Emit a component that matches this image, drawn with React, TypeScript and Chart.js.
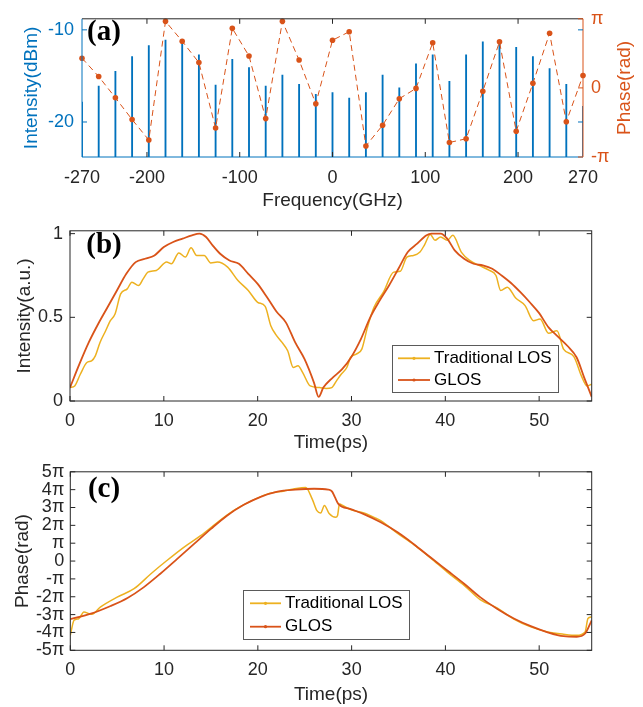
import React, { useEffect, useRef } from 'react';
import { Chart, registerables } from 'chart.js';

Chart.register(...registerables);

// ---------- Panel (a) data ----------
const FREQ_GHZ = [-270, -252, -234, -216, -198, -180, -162, -144, -126, -108, -90, -72, -54, -36, -18, 0,
  18, 36, 54, 72, 90, 108, 126, 144, 162, 180, 198, 216, 234, 252, 270];
const STEM_DBM = [-17.85, -16.1, -14.5, -12.9, -11.7, -11.1, -11.5, -12.7, -16.0, -13.2, -14.1, -16.1, -14.9, -15.9, -17.0, -16.8,
  -17.4, -16.8, -14.9, -16.3, -13.7, -12.7, -15.6, -12.7, -11.3, -11.5, -11.9, -12.9, -14.2, -15.9, -18.3];
// spectral phase, in units of pi
const PHASE_A_PI = [0.43, 0.165, -0.143, -0.458, -0.754, 0.963, 0.676, 0.366, -0.581, 0.862, 0.462, -0.444, 0.963, 0.403, -0.231, 0.69,
  0.813, -0.84, -0.54, -0.157, -0.007, 0.653, -0.79, -0.736, -0.048, 0.667, -0.627, 0.066, 0.79, -0.49, 0.18];
const FREQ_TICKS = [-270, -200, -100, 0, 100, 200, 270];
const DBM_TICKS = [-20, -10];
const PHASE_A_TICKS = [-1, 0, 1];

// ---------- Panel (b) data ----------
const LOS_T = [0, 0.5, 1.1, 1.8, 2.3, 2.7, 3.2, 3.8, 4.3, 4.8, 5.4, 6.1, 6.6, 7.3, 7.8, 8.3, 9.2, 10.3, 10.8, 11.6,
  12.3, 12.9, 13.5, 14.3, 15.0, 15.7, 16.8, 17.9, 19.0, 20.0, 20.8, 21.4, 21.9, 22.6, 23.2, 23.8, 24.3, 24.8, 25.6, 26.6,
  27.3, 27.9, 28.4, 28.9, 29.5, 29.9, 30.5, 31.1, 31.7, 32.4, 33.4, 34.5, 35.2, 35.9, 36.6, 37.3, 37.8, 38.4, 38.9, 39.5,
  40.2, 40.8, 41.7, 42.6, 43.6, 44.7, 45.4, 45.9, 46.6, 47.5, 48.5, 49.4, 50.1, 51.0, 51.9, 52.6, 53.7, 54.5, 55.1, 55.6];
const LOS_I = [0.08, 0.09, 0.16, 0.23, 0.24, 0.27, 0.35, 0.42, 0.48, 0.52, 0.64, 0.67, 0.71, 0.69, 0.73, 0.77, 0.78, 0.83, 0.82, 0.885,
  0.86, 0.915, 0.87, 0.87, 0.825, 0.83, 0.80, 0.72, 0.66, 0.59, 0.565, 0.45, 0.40, 0.35, 0.30, 0.20, 0.21, 0.17, 0.09, 0.08,
  0.075, 0.08, 0.12, 0.16, 0.20, 0.26, 0.28, 0.31, 0.44, 0.56, 0.65, 0.77, 0.775, 0.86, 0.87, 0.89, 0.935, 0.995, 0.96, 0.98,
  0.96, 0.99, 0.89, 0.84, 0.81, 0.78, 0.75, 0.66, 0.68, 0.615, 0.57, 0.48, 0.49, 0.405, 0.42, 0.31, 0.265, 0.15, 0.09, 0.10];
const GLOS_T = [0, 1, 2, 3, 4, 5, 6, 7, 8, 9, 10, 11, 12, 13, 13.8, 14.5, 15.2, 16, 17, 18, 19, 20, 21, 22, 23, 24, 25, 26, 26.5,
  27, 28, 29, 30, 31, 32, 33, 34, 35, 36, 37, 38, 38.5, 39.5, 40.2, 41, 42, 43, 44, 45, 46, 47, 48, 49, 50, 51, 52, 53, 54, 54.8, 55.6];
const GLOS_I = [0.08, 0.22, 0.35, 0.46, 0.56, 0.66, 0.76, 0.83, 0.85, 0.87, 0.92, 0.95, 0.97, 0.99, 1.0, 0.98, 0.93, 0.88, 0.84, 0.82,
  0.76, 0.70, 0.62, 0.535, 0.47, 0.35, 0.25, 0.11, 0.025, 0.08, 0.14, 0.19, 0.265, 0.37, 0.50, 0.60, 0.69, 0.79, 0.89, 0.94, 0.99,
  1.0, 1.0, 0.97, 0.90, 0.85, 0.82, 0.81, 0.79, 0.75, 0.705, 0.65, 0.59, 0.525, 0.44, 0.385, 0.33, 0.26, 0.14, 0.025];
const TIME_TICKS = [0, 10, 20, 30, 40, 50];
const INT_TICKS = [0, 0.5, 1];

// ---------- Panel (c) data (phase in units of pi) ----------
const LOS_PT = [0, 0.4, 0.9, 1.45, 2.0, 2.3, 3.2, 5.0, 6.8, 8.6, 10.3, 12.1, 13.9, 15.7, 17.4, 19.2, 21.0, 22.8, 23.8, 25.1,
  25.8, 26.3, 26.7, 27.1, 27.6, 28.3, 28.5, 28.7, 29.1, 29.9, 31.3, 32.6, 33.1, 34.9, 36.6, 38.4, 40.2, 42.0, 43.7, 45.5,
  47.3, 49.1, 50.9, 52.6, 54.0, 54.9, 55.2, 55.6];
const LOS_PH = [-4.16, -3.32, -3.23, -2.85, -2.95, -2.98, -2.58, -2.02, -1.55, -0.71, 0.03, 0.77, 1.42, 2.17, 2.82, 3.34, 3.75, 3.93, 4.03, 4.12,
  3.47, 2.82, 2.69, 3.11, 2.66, 2.45, 2.55, 3.19, 3.1, 2.88, 2.70, 2.40, 2.26, 1.55, 0.93, 0.18, -0.62, -1.36, -2.16, -2.62,
  -3.25, -3.69, -3.97, -4.10, -4.16, -3.97, -3.22, -3.13];
const GLOS_PT = [0, 2.2, 4.3, 6.1, 7.85, 9.6, 11.4, 13.2, 15.0, 16.7, 18.5, 20.3, 22.1, 24.0, 26.0, 27.5, 27.9, 28.2, 28.6, 29.9,
  31.3, 33.1, 34.9, 36.6, 38.4, 40.2, 42.0, 43.7, 45.5, 47.3, 49.1, 50.9, 52.6, 54.0, 54.9, 55.6];
const GLOS_PH = [-3.26, -2.95, -2.52, -2.07, -1.46, -0.71, 0.12, 0.96, 1.80, 2.54, 3.15, 3.60, 3.89, 4.0, 4.05, 4.0, 3.9, 3.6, 3.19, 2.91,
  2.63, 2.17, 1.61, 0.96, 0.21, -0.53, -1.27, -2.02, -2.67, -3.22, -3.65, -3.99, -4.21, -4.24, -4.06, -3.32];
const PHASE_C_TICKS = [-5, -4, -3, -2, -1, 0, 1, 2, 3, 4, 5];

const SERIES_NAMES = ['Traditional LOS', 'GLOS'];

// ---------- styles ----------
const BLUE = '#0072BD';
const ORANGE = '#D95319';
const YELLOW = '#EDB120';
const INK = '#262626';
const SANS = "'Liberation Sans', Arial, Helvetica, sans-serif";
const SERIF = "'Liberation Serif', 'Times New Roman', serif";
const TICK_LEN = 5;

const piLabel = (v: number) => (v === 0 ? '0' : v === 1 ? 'π' : v === -1 ? '-π' : `${v}π`);
const pts = (xs: number[], ys: number[]) => xs.map((x, i) => ({ x, y: ys[i] }));

function seg(ctx: CanvasRenderingContext2D, x0: number, y0: number, x1: number, y1: number, color: string, w = 1) {
  ctx.beginPath();
  ctx.strokeStyle = color;
  ctx.lineWidth = w;
  ctx.moveTo(x0, y0);
  ctx.lineTo(x1, y1);
  ctx.stroke();
}

function xTicks(chart: any, axis: string, values: number[], color: string) {
  const { ctx, chartArea: a } = chart;
  const s = chart.scales[axis];
  values.forEach((v) => {
    const x = s.getPixelForValue(v);
    seg(ctx, x, a.top, x, a.top + TICK_LEN, color);
    seg(ctx, x, a.bottom, x, a.bottom - TICK_LEN, color);
  });
}

function yTicks(chart: any, axis: string, values: number[], color: string, sides: string[]) {
  const { ctx, chartArea: a } = chart;
  const s = chart.scales[axis];
  values.forEach((v) => {
    const y = s.getPixelForValue(v);
    if (sides.includes('left')) seg(ctx, a.left, y, a.left + TICK_LEN, y, color);
    if (sides.includes('right')) seg(ctx, a.right, y, a.right - TICK_LEN, y, color);
  });
}

function tag(ctx: CanvasRenderingContext2D, text: string, x: number, y: number) {
  ctx.save();
  ctx.font = `bold 29px ${SERIF}`;
  ctx.fillStyle = '#000';
  ctx.textAlign = 'center';
  ctx.textBaseline = 'middle';
  ctx.fillText(text, x, y);
  ctx.restore();
}

function legendBox(ctx: CanvasRenderingContext2D, x0: number, y0: number, x1: number, y1: number,
  lx0: number, lx1: number, tx: number, rows: number[]) {
  ctx.save();
  ctx.fillStyle = '#fff';
  ctx.fillRect(x0, y0, x1 - x0, y1 - y0);
  ctx.strokeStyle = '#5a5a5a';
  ctx.lineWidth = 1;
  ctx.strokeRect(x0 + 0.5, y0 + 0.5, x1 - x0, y1 - y0);
  const colors = [YELLOW, ORANGE];
  ctx.font = `17px ${SANS}`;
  ctx.textBaseline = 'middle';
  ctx.textAlign = 'left';
  SERIES_NAMES.forEach((name, i) => {
    const y = rows[i];
    seg(ctx, lx0, y, lx1, y, colors[i], 1.8);
    ctx.beginPath();
    ctx.fillStyle = colors[i];
    ctx.arc((lx0 + lx1) / 2, y, 1.6, 0, Math.PI * 2);
    ctx.fill();
    ctx.fillStyle = '#000';
    ctx.fillText(name, tx, y);
  });
  ctx.restore();
}

const tickFont = { family: SANS, size: 18 };
const titleFont = { family: SANS, size: 19 };

function fixedTicks(values: number[]) {
  return (s: any) => {
    s.ticks = values.map((value) => ({ value }));
  };
}

function configA(): any {
  const decor = {
    id: 'decorA',
    afterDatasetsDraw(chart: any) {
      const { ctx, chartArea: a } = chart;
      ctx.save();
      seg(ctx, a.left, a.top, a.right, a.top, INK);
      seg(ctx, a.left, a.bottom, a.right, a.bottom, BLUE);
      seg(ctx, a.left, a.top, a.left, a.bottom, BLUE);
      seg(ctx, a.right, a.top, a.right, a.bottom, ORANGE);
      xTicks(chart, 'x', [-200, -100, 0, 100, 200], INK);
      yTicks(chart, 'y', DBM_TICKS, BLUE, ['left', 'right']);
      yTicks(chart, 'yR', PHASE_A_TICKS, ORANGE, ['right']);
      tag(ctx, '(a)', 104, 33);
      ctx.translate(625, (a.top + a.bottom) / 2);
      ctx.rotate(-Math.PI / 2);
      ctx.font = `19px ${SANS}`;
      ctx.fillStyle = ORANGE;
      ctx.textAlign = 'center';
      ctx.textBaseline = 'middle';
      ctx.fillText('Phase(rad)', 0, 0);
      ctx.restore();
    },
  };
  return {
    type: 'bar',
    data: {
      datasets: [
        {
          type: 'line',
          data: pts(FREQ_GHZ, PHASE_A_PI),
          yAxisID: 'yR',
          borderColor: ORANGE,
          borderWidth: 1,
          borderDash: [6, 4],
          pointRadius: 2.8,
          pointBackgroundColor: ORANGE,
          pointBorderWidth: 0,
          clip: false,
          order: 0,
        },
        {
          type: 'bar',
          data: FREQ_GHZ.map((x, i) => ({ x, y: [-23.8, STEM_DBM[i]] })),
          yAxisID: 'y',
          backgroundColor: BLUE,
          borderWidth: 0,
          barThickness: 1.2,
          grouped: false,
          order: 1,
        },
      ],
    },
    options: {
      responsive: false,
      animation: false,
      layout: { padding: { top: 10.7, left: 0, right: 0, bottom: 0 } },
      plugins: { legend: { display: false }, tooltip: { enabled: false } },
      scales: {
        x: {
          type: 'linear', min: -270, max: 270, offset: false,
          afterBuildTicks: fixedTicks(FREQ_TICKS),
          afterFit: (s: any) => { s.height = 56; },
          grid: { display: false, drawTicks: false }, border: { display: false },
          ticks: { color: INK, font: tickFont, padding: 10.5, maxRotation: 0, autoSkip: false, callback: (v: any) => String(v) },
          title: { display: true, text: 'Frequency(GHz)', color: INK, font: titleFont, padding: { top: 0, bottom: 0.6 } },
        },
        y: {
          type: 'linear', position: 'left', min: -23.8, max: -8.8,
          afterBuildTicks: fixedTicks(DBM_TICKS),
          afterFit: (s: any) => { s.width = 82; },
          grid: { display: false, drawTicks: false }, border: { display: false },
          ticks: { color: BLUE, font: tickFont, padding: 8, autoSkip: false, callback: (v: any) => String(v) },
          title: { display: true, text: 'Intensity(dBm)', color: BLUE, font: titleFont, padding: { top: 20.6, bottom: 0 } },
        },
        yR: {
          type: 'linear', position: 'right', min: -1, max: 1,
          afterBuildTicks: fixedTicks(PHASE_A_TICKS),
          afterFit: (s: any) => { s.width = 60; },
          grid: { display: false, drawTicks: false }, border: { display: false },
          ticks: { color: ORANGE, font: tickFont, padding: 8, autoSkip: false, callback: (v: any) => piLabel(v) },
        },
      },
    },
    plugins: [decor],
  };
}

function boxDecor(id: string, tagText: string, tagY: number, yAxisTicks: number[], legend: number[]) {
  return {
    id,
    afterDatasetsDraw(chart: any) {
      const { ctx, chartArea: a } = chart;
      ctx.save();
      ctx.strokeStyle = INK;
      ctx.lineWidth = 1;
      ctx.strokeRect(a.left, a.top, a.right - a.left, a.bottom - a.top);
      xTicks(chart, 'x', TIME_TICKS, INK);
      yTicks(chart, 'y', yAxisTicks, INK, ['left', 'right']);
      tag(ctx, tagText, 104, tagY);
      const [x0, y0, x1, y1, lx0, lx1, tx, r0, r1] = legend;
      legendBox(ctx, x0, y0, x1, y1, lx0, lx1, tx, [r0, r1]);
      ctx.restore();
    },
  };
}

function timeConfig(opts: {
  los: any[]; glos: any[]; yMin: number; yMax: number; yTicks: number[]; yLabel: (v: number) => string;
  yTitle: string; yTitlePad: number; padTop: number; xHeight: number; yWidth: number; xTickPad: number; yTickPad: number; decor: any;
}): any {
  return {
    type: 'line',
    data: {
      datasets: [
        { label: SERIES_NAMES[0], data: opts.los, borderColor: YELLOW, borderWidth: 1.5, pointRadius: 0, cubicInterpolationMode: 'monotone', order: 1 },
        { label: SERIES_NAMES[1], data: opts.glos, borderColor: ORANGE, borderWidth: 1.8, pointRadius: 0, cubicInterpolationMode: 'monotone', order: 0 },
      ],
    },
    options: {
      responsive: false,
      animation: false,
      layout: { padding: { top: opts.padTop, left: 0, right: 51.3, bottom: 0 } },
      plugins: { legend: { display: false }, tooltip: { enabled: false } },
      scales: {
        x: {
          type: 'linear', min: 0, max: 55.6,
          afterBuildTicks: fixedTicks(TIME_TICKS),
          afterFit: (s: any) => { s.height = opts.xHeight; },
          grid: { display: false, drawTicks: false }, border: { display: false },
          ticks: { color: INK, font: tickFont, padding: opts.xTickPad, maxRotation: 0, autoSkip: false, callback: (v: any) => String(v) },
          title: { display: true, text: 'Time(ps)', color: INK, font: titleFont, padding: { top: 0, bottom: 0.6 } },
        },
        y: {
          type: 'linear', position: 'left', min: opts.yMin, max: opts.yMax,
          afterBuildTicks: fixedTicks(opts.yTicks),
          afterFit: (s: any) => { s.width = opts.yWidth; },
          grid: { display: false, drawTicks: false }, border: { display: false },
          ticks: { color: INK, font: tickFont, padding: opts.yTickPad, autoSkip: false, callback: (v: any) => opts.yLabel(v) },
          title: { display: true, text: opts.yTitle, color: INK, font: titleFont, padding: { top: opts.yTitlePad, bottom: 0 } },
        },
      },
    },
    plugins: [opts.decor],
  };
}

function configB(): any {
  return timeConfig({
    los: pts(LOS_T, LOS_I), glos: pts(GLOS_T, GLOS_I),
    yMin: 0, yMax: 1.017, yTicks: INT_TICKS, yLabel: (v) => String(v),
    yTitle: 'Intensity(a.u.)', yTitlePad: 13.6, padTop: 9.7, xHeight: 54, yWidth: 70, xTickPad: 9.2, yTickPad: 7,
    decor: boxDecor('decorB', '(b)', 32.5, INT_TICKS, [392, 132, 558, 179, 398, 430, 434, 145.3, 167]),
  });
}

function configC(): any {
  return timeConfig({
    los: pts(LOS_PT, LOS_PH), glos: pts(GLOS_PT, GLOS_PH),
    yMin: -5, yMax: 5, yTicks: PHASE_C_TICKS, yLabel: piLabel,
    yTitle: 'Phase(rad)', yTitlePad: 11.1, padTop: 16, xHeight: 56.7, yWidth: 70.3, xTickPad: 8.9, yTickPad: 6,
    decor: boxDecor('decorC', '(c)', 35, PHASE_C_TICKS, [243, 135, 409, 184, 250, 281, 285, 148.3, 171.7]),
  });
}

export default function App() {
  const ra = useRef<HTMLCanvasElement>(null);
  const rb = useRef<HTMLCanvasElement>(null);
  const rc = useRef<HTMLCanvasElement>(null);

  useEffect(() => {
    const charts = [
      new Chart(ra.current as HTMLCanvasElement, configA()),
      new Chart(rb.current as HTMLCanvasElement, configB()),
      new Chart(rc.current as HTMLCanvasElement, configC()),
    ];
    return () => charts.forEach((c) => c.destroy());
  }, []);

  const cs: React.CSSProperties = { position: 'absolute', left: 0, display: 'block' };
  return (
    <div style={{ position: 'absolute', left: 0, top: 0, width: 643, height: 707, background: '#fff', overflow: 'hidden' }}>
      <canvas ref={ra} width={643} height={213} style={{ ...cs, top: 0, width: 643, height: 213 }} />
      <canvas ref={rb} width={643} height={242} style={{ ...cs, top: 213, width: 643, height: 242 }} />
      <canvas ref={rc} width={643} height={252} style={{ ...cs, top: 455, width: 643, height: 252 }} />
    </div>
  );
}
